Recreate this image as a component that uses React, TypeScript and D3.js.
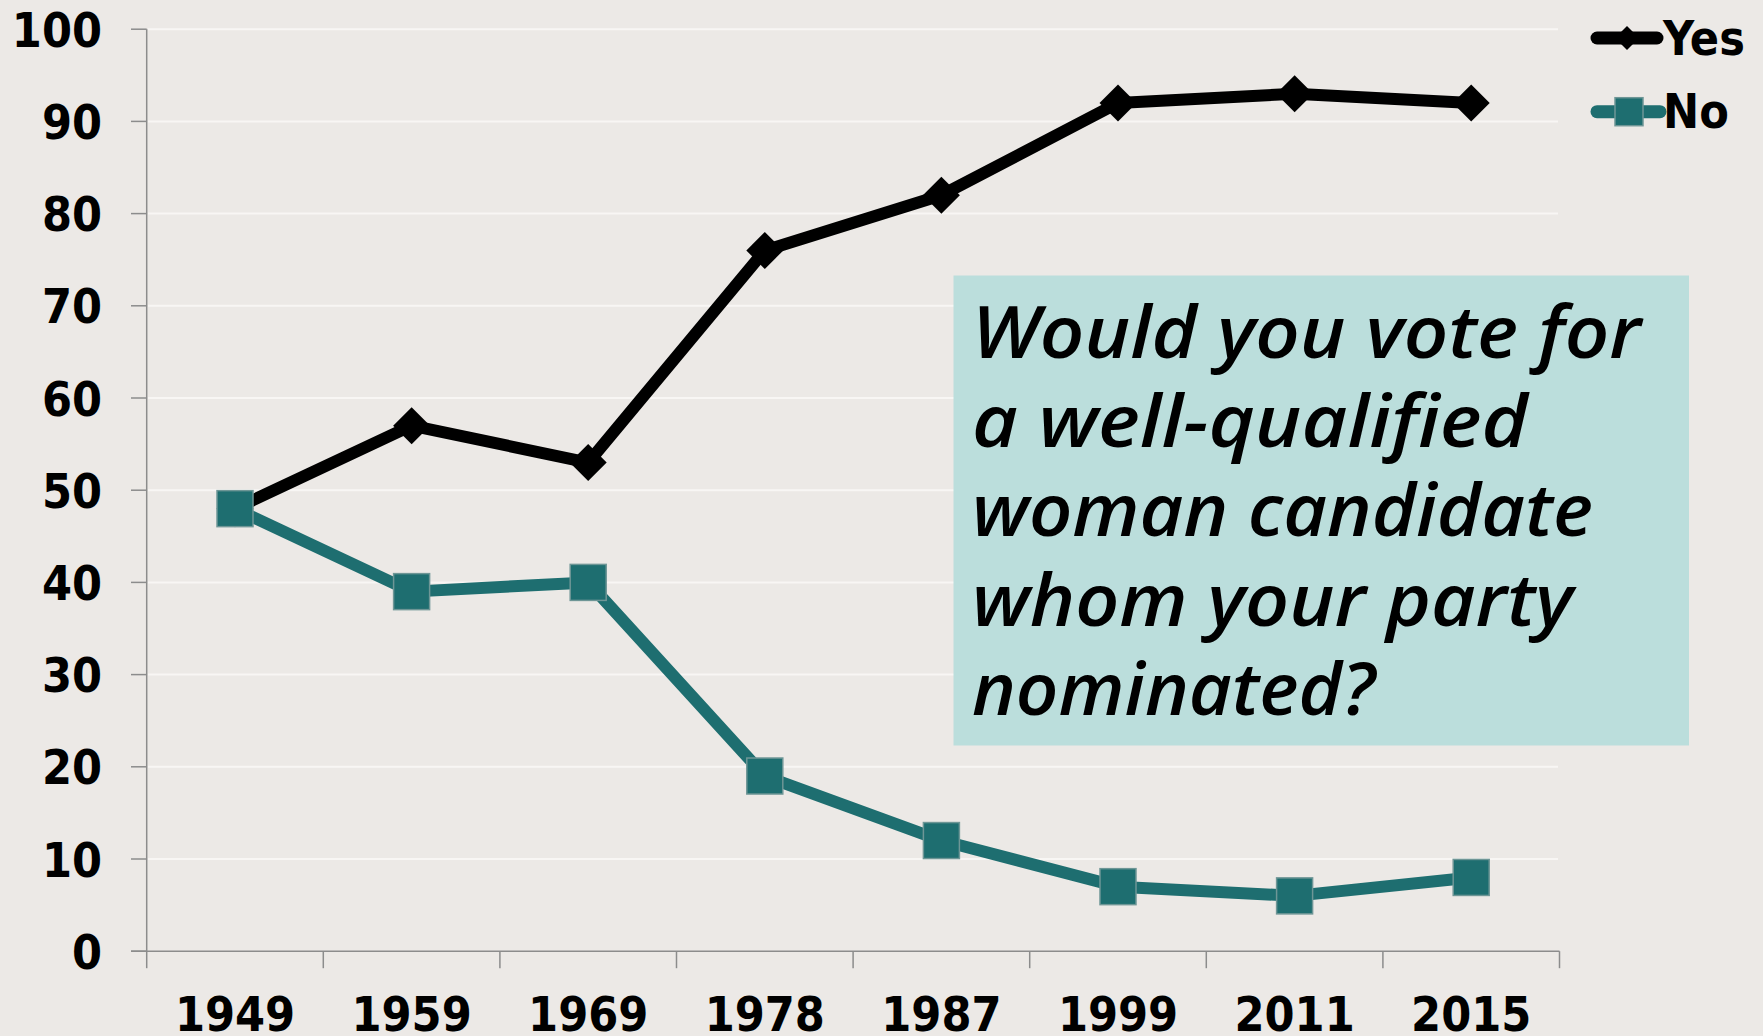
import React from "react";
import * as d3 from "d3";

const years = ["1949", "1959", "1969", "1978", "1987", "1999", "2011", "2015"];
const yesValues = [48, 57, 53, 76, 82, 92, 93, 92];
const noValues = [48, 39, 40, 19, 12, 7, 6, 8];
const yTicks = [0, 10, 20, 30, 40, 50, 60, 70, 80, 90, 100];
const questionLines = [
  "Would you vote for",
  "a well-qualified",
  "woman candidate",
  "whom your party",
  "nominated?",
];
const questionWidths = [669, 556, 621, 601, 403];
const legendItems = ["Yes", "No"];

const W = 1763;
const H = 1036;
const BG = "#ECE9E6";
const TEAL = "#1E6E70";
const TICK_FONT = "'DejaVu Sans Condensed', 'DejaVu Sans', sans-serif";

export default function App() {
  const x = d3.scaleBand<string>().domain(years).range([146.7, 1559.5]).padding(0);
  const y = d3.scaleLinear().domain([0, 100]).range([951.2, 29.2]);
  const cx = (i: number) => (x(years[i]) as number) + x.bandwidth() / 2;

  const line = d3
    .line<number>()
    .x((_, i) => cx(i))
    .y((d) => y(d));

  const diamond = (r: number) => `M0,${-r}L${r},0L0,${r}L${-r},0Z`;
  const sq = 36;

  const boundaries = [...years.map((yr) => x(yr) as number), x.range()[1]];

  return (
    <div style={{ position: "fixed", left: 0, top: 0, width: W, height: H, background: BG }}>
      <svg width={W} height={H} style={{ display: "block" }}>
        <rect x={0} y={0} width={W} height={H} fill={BG} />
        {/* gridlines */}
        {yTicks.map((t) =>
          t === 0 ? null : (
            <line key={"g" + t} x1={148} x2={1558} y1={y(t)} y2={y(t)} stroke="#F8F6F4" strokeWidth={2} />
          )
        )}
        {/* text box */}
        <rect x={953.5} y={275.5} width={735.5} height={470} fill="#BBDEDC" />
        {questionLines.map((s, i) => (
          <text
            key={s}
            x={972}
            y={357.5 + i * 89.4}
            fontFamily="'Open Sans', sans-serif"
            fontStyle="italic"
            fontWeight={600}
            fontSize={73}
            fill="#000"
            textLength={questionWidths[i]}
            lengthAdjust="spacingAndGlyphs"
          >
            {s}
          </text>
        ))}
        {/* y axis */}
        <line x1={146.7} x2={146.7} y1={y(100)} y2={y(0)} stroke="#8C8C8C" strokeWidth={1.5} />
        {yTicks.map((t) => (
          <g key={"yt" + t}>
            <line x1={131} x2={146.7} y1={y(t)} y2={y(t)} stroke="#8C8C8C" strokeWidth={1.5} />
            <text
              x={102}
              y={y(t) + 17.5}
              textAnchor="end"
              fontFamily={TICK_FONT}
              fontWeight="bold"
              fontSize={48}
              fill="#000"
            >
              {t}
            </text>
          </g>
        ))}
        {/* x axis */}
        <line x1={131} x2={1559.5} y1={y(0)} y2={y(0)} stroke="#8C8C8C" strokeWidth={1.5} />
        {boundaries.map((b, i) => (
          <line key={"xt" + i} x1={b} x2={b} y1={y(0)} y2={y(0) + 17} stroke="#8C8C8C" strokeWidth={1.5} />
        ))}
        {years.map((yr, i) => (
          <text
            key={"xl" + yr}
            x={cx(i)}
            y={1031}
            textAnchor="middle"
            fontFamily={TICK_FONT}
            fontWeight="bold"
            fontSize={48}
            fill="#000"
          >
            {yr}
          </text>
        ))}
        {/* Yes series */}
        <path d={line(yesValues) as string} fill="none" stroke="#000" strokeWidth={12} strokeLinejoin="round" />
        {yesValues.map((v, i) => (
          <path key={"yd" + i} d={diamond(18.5)} transform={`translate(${cx(i)},${y(v)})`} fill="#000" />
        ))}
        {/* No series */}
        <path d={line(noValues) as string} fill="none" stroke={TEAL} strokeWidth={12} strokeLinejoin="round" />
        {noValues.map((v, i) => (
          <rect
            key={"ns" + i}
            x={cx(i) - sq / 2}
            y={y(v) - sq / 2}
            width={sq}
            height={sq}
            fill={TEAL}
            stroke="#6E9696"
            strokeWidth={1.5}
          />
        ))}
        {/* legend */}
        <g>
          <line x1={1597} x2={1657} y1={38} y2={38} stroke="#000" strokeWidth={13} strokeLinecap="round" />
          <path d={diamond(12)} transform="translate(1627,38)" fill="#000" />
          <text x={1663} y={55} fontFamily={TICK_FONT} fontWeight="bold" fontSize={48} fill="#000">
            {legendItems[0]}
          </text>
          <line x1={1597} x2={1660} y1={111.7} y2={111.7} stroke={TEAL} strokeWidth={13} strokeLinecap="round" />
          <rect x={1615} y={97.7} width={28} height={28} fill={TEAL} stroke="#6E9696" strokeWidth={1.5} />
          <text x={1663} y={128} fontFamily={TICK_FONT} fontWeight="bold" fontSize={48} fill="#000">
            {legendItems[1]}
          </text>
        </g>
      </svg>
    </div>
  );
}
